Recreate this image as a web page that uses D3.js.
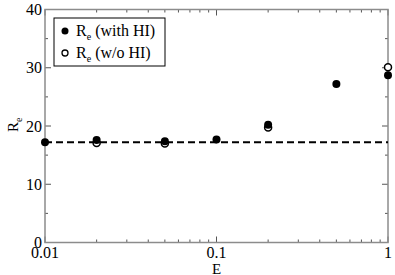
<!DOCTYPE html>
<html>
<head>
<meta charset="utf-8">
<script src="https://cdn.jsdelivr.net/npm/d3@7"></script>
<style>
  body { margin: 0; background: #fff; }
</style>
</head>
<body>
<div id="chart"></div>
<script>
// data
const energies = [0.01, 0.02, 0.05, 0.1, 0.2, 0.5, 1];
const withHI = [17.2, 17.6, 17.4, 17.7, 20.2, 27.2, 28.7];
const withoutHI = [null, 17.1, 17.0, null, 19.75, null, 30.1];
const refLevel = 17.2;
const xTicks = [0.01, 0.1, 1];
const yTicks = [0, 10, 20, 30, 40];
const yMinor = [5, 15, 25, 35];

const width = 395, height = 275;
const margin = {top: 9.5, right: 7, bottom: 32.5, left: 45};
const w = width - margin.left - margin.right;
const h = height - margin.top - margin.bottom;
const serif = "'Liberation Serif', 'Times New Roman', Times, 'DejaVu Serif', serif";

const svg = d3.select("#chart").append("svg")
    .attr("width", width)
    .attr("height", height)
    .attr("font-family", serif)
    .style("font-family", serif);

const g = svg.append("g")
    .attr("transform", `translate(${margin.left},${margin.top})`);

const x = d3.scaleLog().domain([0.01, 1]).range([0, w]);
const y = d3.scaleLinear().domain([0, 40]).range([h, 0]);

const xMinor = [];
[0.01, 0.1].forEach(b => { for (let k = 2; k <= 9; k++) xMinor.push(b * k); });

const axisColor = "#8c8c8c";
const tickColor = "#555";

// ticks (all inward)
function ticks(sel, vals, len, side) {
  vals.forEach(v => {
    if (side === "bottom" || side === "top") {
      const yy = side === "bottom" ? h : 0;
      const dir = side === "bottom" ? -1 : 1;
      sel.append("line")
        .attr("x1", x(v)).attr("x2", x(v))
        .attr("y1", yy).attr("y2", yy + dir * len)
        .attr("stroke", tickColor).attr("stroke-width", 1);
    } else {
      const xx = side === "left" ? 0 : w;
      const dir = side === "left" ? 1 : -1;
      sel.append("line")
        .attr("x1", xx).attr("x2", xx + dir * len)
        .attr("y1", y(v)).attr("y2", y(v))
        .attr("stroke", tickColor).attr("stroke-width", 1);
    }
  });
}
const tg = g.append("g");
["bottom", "top"].forEach(s => { ticks(tg, xTicks, 6, s); ticks(tg, xMinor, 3, s); });
["left", "right"].forEach(s => { ticks(tg, yTicks, 6, s); ticks(tg, yMinor, 3, s); });

// frame
g.append("rect")
    .attr("width", w).attr("height", h)
    .attr("fill", "none")
    .attr("stroke", axisColor)
    .attr("stroke-width", 1.5);

// tick labels
g.selectAll(".xlab")
  .data(xTicks)
  .join("text")
    .attr("x", d => x(d))
    .attr("y", h + 15)
    .attr("text-anchor", "middle")
    .attr("font-size", 16)
    .text(d => d);

g.selectAll(".ylab")
  .data(yTicks)
  .join("text")
    .attr("x", -3)
    .attr("y", d => y(d) + 5.5)
    .attr("text-anchor", "end")
    .attr("font-size", 16)
    .text(d => d);

// axis titles
g.append("text")
    .attr("x", x(0.1))
    .attr("y", h + 31)
    .attr("text-anchor", "middle")
    .attr("font-size", 15)
    .text("E");

const yt = svg.append("text")
    .attr("transform", `translate(18,${margin.top + y(20) + 6}) rotate(-90)`)
    .attr("font-size", 15);
yt.append("tspan").text("R");
yt.append("tspan").attr("font-size", 10).attr("dy", 4).text("e");

// reference line
g.append("line")
    .attr("x1", 0).attr("x2", w)
    .attr("y1", y(refLevel)).attr("y2", y(refLevel))
    .attr("stroke", "#000")
    .attr("stroke-width", 2)
    .attr("stroke-dasharray", "7,4");

// points
const open = energies.map((e, i) => ({e, v: withoutHI[i]})).filter(d => d.v != null);
const filled = energies.map((e, i) => ({e, v: withHI[i]}));

g.selectAll(".open")
  .data(open)
  .join("circle")
    .attr("cx", d => x(d.e))
    .attr("cy", d => y(d.v))
    .attr("r", 3.5)
    .attr("fill", "#fff")
    .attr("stroke", "#000")
    .attr("stroke-width", 1.5);

g.selectAll(".filled")
  .data(filled)
  .join("circle")
    .attr("cx", d => x(d.e))
    .attr("cy", d => y(d.v))
    .attr("r", 4)
    .attr("fill", "#000");

// legend
const leg = svg.append("g").attr("transform", "translate(54,18)");
leg.append("rect")
    .attr("width", 111).attr("height", 48)
    .attr("fill", "#fff")
    .attr("stroke", "#000")
    .attr("stroke-width", 1);

const items = [{label: "(with HI)", filled: true}, {label: "(w/o HI)", filled: false}];
const rows = leg.selectAll(".item")
  .data(items)
  .join("g")
    .attr("transform", (d, i) => `translate(0,${13 + i * 22})`);

rows.append("circle")
    .attr("cx", 11)
    .attr("cy", 0)
    .attr("r", d => d.filled ? 3.5 : 3)
    .attr("fill", d => d.filled ? "#000" : "#fff")
    .attr("stroke", "#000")
    .attr("stroke-width", d => d.filled ? 0 : 1.3);

const lt = rows.append("text")
    .attr("x", 22)
    .attr("y", 5)
    .attr("font-size", 16);
lt.append("tspan").text("R");
lt.append("tspan").attr("font-size", 10).attr("dy", 4).text("e");
lt.append("tspan").attr("dy", -4).text(d => " " + d.label);
</script>
</body>
</html>
